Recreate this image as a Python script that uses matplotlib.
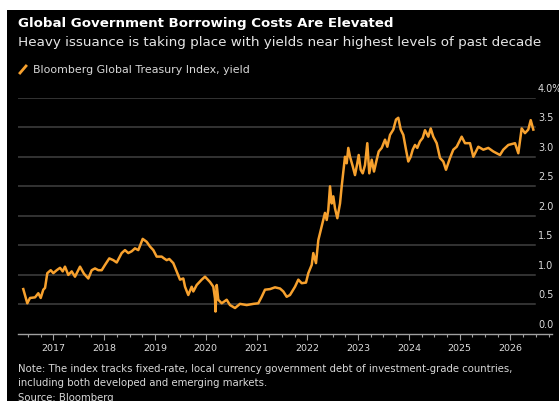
import matplotlib
matplotlib.use('Agg')
import matplotlib.pyplot as plt
from matplotlib.patches import Rectangle
from matplotlib.lines import Line2D
import numpy as np

# ---- data (decimal year, yield %) ----
years = [2016.409, 2016.488, 2016.541, 2016.640, 2016.705, 2016.752, 2016.803, 2016.837,
         2016.882, 2016.949, 2017.000, 2017.067, 2017.132, 2017.185, 2017.230, 2017.295,
         2017.362, 2017.427, 2017.526, 2017.604, 2017.689, 2017.756, 2017.821, 2017.886,
         2017.953, 2018.018, 2018.102, 2018.181, 2018.248, 2018.346, 2018.411, 2018.476,
         2018.543, 2018.608, 2018.673, 2018.760, 2018.839, 2018.904, 2018.969, 2019.035,
         2019.134, 2019.179, 2019.232, 2019.283, 2019.362, 2019.429, 2019.494, 2019.559,
         2019.593, 2019.657, 2019.724, 2019.756, 2019.823, 2019.921, 2019.986, 2020.085,
         2020.150, 2020.183, 2020.193, 2020.217, 2020.248, 2020.315, 2020.413, 2020.478,
         2020.577, 2020.675, 2020.807, 2020.937, 2021.035, 2021.102, 2021.167, 2021.266,
         2021.364, 2021.463, 2021.528, 2021.594, 2021.659, 2021.758, 2021.823, 2021.890,
         2021.974, 2022.020, 2022.087, 2022.118, 2022.171, 2022.217, 2022.283, 2022.348,
         2022.382, 2022.413, 2022.447, 2022.480, 2022.512, 2022.545, 2022.591, 2022.644,
         2022.677, 2022.742, 2022.776, 2022.807, 2022.841, 2022.894, 2022.939, 2022.984,
         2023.012, 2023.051, 2023.091, 2023.136, 2023.181, 2023.220, 2023.268, 2023.313,
         2023.366, 2023.406, 2023.465, 2023.530, 2023.575, 2023.628, 2023.693, 2023.746,
         2023.791, 2023.839, 2023.890, 2023.943, 2023.988, 2024.035, 2024.075, 2024.120,
         2024.165, 2024.218, 2024.272, 2024.317, 2024.382, 2024.429, 2024.480, 2024.547,
         2024.612, 2024.677, 2024.730, 2024.809, 2024.874, 2024.941, 2025.039, 2025.104,
         2025.203, 2025.268, 2025.366, 2025.465, 2025.563, 2025.661, 2025.793, 2025.858,
         2025.957, 2026.089, 2026.154, 2026.220, 2026.285, 2026.350, 2026.398, 2026.449]
yields = [0.76, 0.52, 0.61, 0.62, 0.69, 0.61, 0.75, 0.78,
          1.03, 1.08, 1.03, 1.08, 1.12, 1.06, 1.14, 1.00,
          1.06, 0.97, 1.14, 1.02, 0.94, 1.08, 1.11, 1.08,
          1.08, 1.17, 1.28, 1.25, 1.21, 1.37, 1.42, 1.37,
          1.40, 1.45, 1.42, 1.61, 1.56, 1.48, 1.42, 1.31,
          1.31, 1.28, 1.25, 1.27, 1.20, 1.06, 0.92, 0.94,
          0.80, 0.66, 0.80, 0.72, 0.83, 0.92, 0.97, 0.88,
          0.80, 0.60, 0.38, 0.83, 0.58, 0.52, 0.58, 0.49,
          0.44, 0.51, 0.49, 0.51, 0.52, 0.63, 0.75, 0.76,
          0.79, 0.77, 0.72, 0.63, 0.66, 0.80, 0.92, 0.86,
          0.87, 1.03, 1.17, 1.37, 1.20, 1.59, 1.82, 2.05,
          1.93, 2.10, 2.50, 2.21, 2.33, 2.13, 1.96, 2.21,
          2.50, 3.00, 2.89, 3.15, 3.00, 2.84, 2.69, 2.89,
          3.03, 2.78, 2.72, 2.86, 3.23, 2.72, 2.95, 2.75,
          2.95, 3.09, 3.15, 3.29, 3.17, 3.37, 3.46, 3.63,
          3.66, 3.46, 3.37, 3.12, 2.92, 3.00, 3.12, 3.20,
          3.15, 3.26, 3.32, 3.45, 3.34, 3.48, 3.34, 3.23,
          2.98, 2.92, 2.78, 2.98, 3.12, 3.17, 3.34, 3.23,
          3.23, 3.00, 3.17, 3.12, 3.15, 3.09, 3.03, 3.12,
          3.20, 3.23, 3.06, 3.48, 3.40, 3.46, 3.62, 3.46]

year_ticks = [2017, 2018, 2019, 2020, 2021, 2022, 2023, 2024, 2025, 2026]
year_labels = ['2017', '2018', '2019', '2020', '2021', '2022', '2023', '2024', '2025', '2026']
y_ticks = [0.0, 0.5, 1.0, 1.5, 2.0, 2.5, 3.0, 3.5, 4.0]
y_tick_labels = ['0.0', '0.5', '1.0', '1.5', '2.0', '2.5', '3.0', '3.5', '4.0%']

title = 'Global Government Borrowing Costs Are Elevated'
subtitle = 'Heavy issuance is taking place with yields near highest levels of past decade'
legend_label = 'Bloomberg Global Treasury Index, yield'
note_lines = ['Note: The index tracks fixed-rate, local currency government debt of investment-grade countries,',
              'including both developed and emerging markets.',
              'Source: Bloomberg']

# ---- layout ----
W, H = 559, 401
LINE_COLOR = '#f7a12e'
fig = plt.figure(figsize=(W / 100, H / 100), dpi=100, facecolor='white')
fig.patches.append(Rectangle((7 / W, 0), 1 - 7 / W, (H - 10) / H, transform=fig.transFigure,
                             facecolor='black', edgecolor='none', zorder=-10))

def fx(px):
    return px / W

def fy(py):
    return 1 - py / H

ax_left, ax_right, ax_top, ax_bot = 18, 552, 97.7, 334
ax = fig.add_axes([fx(ax_left), fy(ax_bot), (ax_right - ax_left) / W, (ax_bot - ax_top) / H])
ax.set_zorder(5)
ax.set_facecolor('none')
ax.set_xlim(2016.305, 2026.817)
ax.set_ylim(0, 4.0)

grid_end = (535 - ax_left) / (ax_right - ax_left)
for v in y_ticks[1:]:
    ax.axhline(v, xmin=0, xmax=grid_end, color='#404040', lw=1.1, zorder=1)

ax.plot(years, yields, color=LINE_COLOR, lw=1.8, zorder=3, solid_joinstyle='round')

for s in ['top', 'right', 'left']:
    ax.spines[s].set_visible(False)
ax.spines['bottom'].set_color('#a0a0a0')
ax.spines['bottom'].set_linewidth(1.0)

ax.set_xticks(year_ticks)
ax.set_xticklabels(year_labels)
ax.set_xticks(np.arange(2016.5, 2026.8, 0.25), minor=True)
ax.tick_params(axis='x', which='major', length=4, width=0.8, color='#a0a0a0',
               labelcolor='#dcdcdc', labelsize=6.8, pad=3.5)
ax.tick_params(axis='x', which='minor', length=2, width=0.8, color='#a0a0a0')
ax.set_yticks([])

label_x = (538 - ax_left) / (ax_right - ax_left)
for v, lab in zip(y_ticks, y_tick_labels):
    ax.annotate(lab, xy=(label_x, v), xycoords=ax.get_yaxis_transform(),
                xytext=(0, 6.5), textcoords='offset points', ha='left', va='center',
                color='#dcdcdc', fontsize=7.0, annotation_clip=False)

# ---- texts ----
fig.text(fx(18), fy(27), title, color='white', fontsize=9.6, fontweight='bold', va='baseline')
fig.text(fx(18), fy(46), subtitle, color='#e6e6e6', fontsize=9.7, va='baseline')
fig.add_artist(Line2D([fx(20), fx(26)], [fy(73), fy(66)], color=LINE_COLOR, lw=2,
                      transform=fig.transFigure))
fig.text(fx(33), fy(73), legend_label, color='#d8d8d8', fontsize=7.9, va='baseline')
for i, t in enumerate(note_lines):
    fig.text(fx(18), fy(372 + 14.5 * i), t, color='#d8d8d8', fontsize=7.25, va='baseline')

fig.savefig('out.png', dpi=100, facecolor='white')
